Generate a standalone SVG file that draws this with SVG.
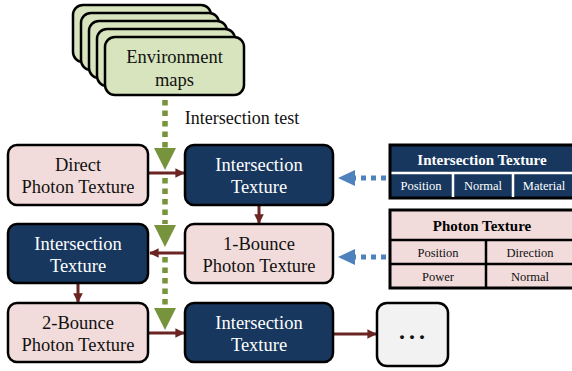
<svg xmlns="http://www.w3.org/2000/svg" width="572" height="371" viewBox="0 0 572 371" font-family="'Liberation Serif', 'Times New Roman', Times, 'DejaVu Serif', serif">
<style>
text{font-family:'Liberation Serif','Times New Roman',Times,'DejaVu Serif',serif;text-anchor:middle}
.env{fill:#d7e4bd;stroke:#000;stroke-width:2.5}
.pink{fill:#f2dcdb;stroke:#000;stroke-width:2.5}
.navy{fill:#17375e;stroke:#000;stroke-width:2.5}
.grey{fill:#f2f2f2;stroke:#000;stroke-width:2.5}
.nt{font-size:18.5px;fill:#111}
.nw{font-size:18.5px;fill:#fff}
.red{stroke:#6a2523;stroke-width:3;fill:none;marker-end:url(#ra)}
.gdash{stroke:#77933c;stroke-width:5.5;stroke-dasharray:5.5 5;fill:none}
.gh{fill:#77933c}
.bdash{stroke:#4f81bd;stroke-width:5;stroke-dasharray:5 5;fill:none}
.bh{fill:#4f81bd}
.cell{font-size:12.5px}
</style>
<defs>
<marker id="ra" viewBox="0 0 10 10" refX="9" refY="5" markerWidth="3.2" markerHeight="3.2" orient="auto" markerUnits="strokeWidth">
<path d="M0,0 L10,5 L0,10 z" fill="#6a2523"/>
</marker>
</defs>

<g id="env">
<rect class="env" x="73" y="5" width="138" height="57" rx="10"/>
<rect class="env" x="81" y="13" width="138" height="57" rx="10"/>
<rect class="env" x="89" y="21" width="138" height="57" rx="10"/>
<rect class="env" x="97" y="29" width="138" height="57" rx="10"/>
<rect class="env" x="105" y="37" width="139" height="58" rx="10"/>
<text class="nt" x="174.5" y="63">Environment</text>
<text class="nt" x="174.5" y="86">maps</text>
</g>

<g id="connectors">
<path class="gdash" d="M165,100 V148"/>
<polygon class="gh" points="154,148 176,148 165,170"/>
<path class="gdash" d="M165,178 V224"/>
<polygon class="gh" points="154,225 176,225 165,247"/>
<path class="gdash" d="M165,257 V306"/>
<polygon class="gh" points="154,308 176,308 165,330"/>
<text x="242" y="124" style="font-size:18px;fill:#111">Intersection test</text>

<path class="red" d="M149,173 H184"/>
<path class="red" d="M259,206 V223"/>
<path class="red" d="M185,253 H150"/>
<path class="red" d="M78,284 V302"/>
<path class="red" d="M149,333 H184"/>
<path class="red" d="M334,334 H376"/>

<path class="bdash" d="M386,178 H352"/>
<polygon class="bh" points="338,178 355,170 355,186"/>
<path class="bdash" d="M386,257 H352"/>
<polygon class="bh" points="338,257 355,249 355,265"/>
</g>

<g id="direct">
<rect class="pink" x="8" y="145" width="140" height="60" rx="9"/>
<text class="nt" x="78" y="171">Direct</text>
<text class="nt" x="78" y="193">Photon Texture</text>
</g>
<g id="inter1">
<rect class="navy" x="185" y="145" width="148" height="60" rx="9"/>
<text class="nw" x="259" y="171">Intersection</text>
<text class="nw" x="259" y="193">Texture</text>
</g>
<g id="inter2">
<rect class="navy" x="8" y="224" width="140" height="59" rx="9"/>
<text class="nw" x="78" y="250">Intersection</text>
<text class="nw" x="78" y="272">Texture</text>
</g>
<g id="bounce1">
<rect class="pink" x="185" y="224" width="148" height="59" rx="9"/>
<text class="nt" x="259" y="250">1-Bounce</text>
<text class="nt" x="259" y="272">Photon Texture</text>
</g>
<g id="bounce2">
<rect class="pink" x="8" y="303" width="140" height="59" rx="9"/>
<text class="nt" x="78" y="329">2-Bounce</text>
<text class="nt" x="78" y="351">Photon Texture</text>
</g>
<g id="inter3">
<rect class="navy" x="185" y="303" width="148" height="59" rx="9"/>
<text class="nw" x="259" y="329">Intersection</text>
<text class="nw" x="259" y="351">Texture</text>
</g>
<g id="more">
<rect class="grey" x="377" y="303" width="71" height="63" rx="10"/>
<text x="414" y="339" style="font-size:24px;font-weight:bold;letter-spacing:4px;fill:#111">...</text>
</g>

<g id="intersection-table">
<rect x="390" y="145" width="184" height="53" fill="#17375e" stroke="#000" stroke-width="3"/>
<path d="M391.5,173 H572 M453,173 V197 M513,173 V197" stroke="#fff" stroke-width="2.5" fill="none"/>
<text x="482" y="165" style="font-size:15px;font-weight:bold;fill:#fff">Intersection Texture</text>
<text class="cell" x="421" y="190" fill="#fff">Position</text>
<text class="cell" x="483" y="190" fill="#fff">Normal</text>
<text class="cell" x="544" y="190" fill="#fff">Material</text>
</g>

<g id="photon-table">
<rect x="390" y="210" width="184" height="78" fill="#f2dcdb" stroke="#000" stroke-width="3"/>
<path d="M390,240 H572 M390,264 H572 M486,240 V288" stroke="#000" stroke-width="2.5" fill="none"/>
<text x="482" y="231" style="font-size:15px;font-weight:bold;fill:#000">Photon Texture</text>
<text class="cell" x="438" y="257" fill="#111">Position</text>
<text class="cell" x="530" y="257" fill="#111">Direction</text>
<text class="cell" x="438" y="281" fill="#111">Power</text>
<text class="cell" x="530" y="281" fill="#111">Normal</text>
</g>
</svg>
